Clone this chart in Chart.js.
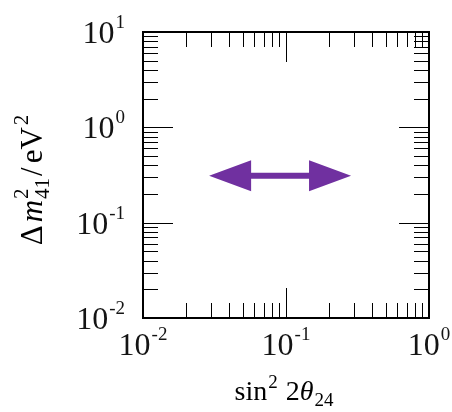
<!DOCTYPE html>
<html>
<head>
<meta charset="utf-8">
<script src="https://cdn.jsdelivr.net/npm/chart.js@4.4.0/dist/chart.umd.min.js"></script>
<style>
html, body { margin: 0; padding: 0; background: #fff; }
canvas { display: block; }
</style>
</head>
<body>
<canvas id="chart" width="452" height="412"></canvas>
<script>
const xTicks = [0.01, 0.1, 1];
const xTickExp = ['-2', '-1', '0'];
const yTicks = [0.01, 0.1, 1, 10];
const yTickExp = ['-2', '-1', '0', '1'];
// range of sin^2 2theta covered by the arrow, at one dm^2
const arrowX = [0.029, 0.285];
const arrowY = [0.31, 0.31];
const arrowColor = '#7030a0';

const serif = '"Liberation Serif", "DejaVu Serif", serif';

function fontOf(p) {
	return (p.italic ? 'italic ' : '') + p.size + 'px ' + serif;
}

function partWidth(ctx, p) {
	if (p.sup !== undefined) {
		ctx.font = p.size + 'px ' + serif;
		return Math.max(ctx.measureText(p.sup).width, ctx.measureText(p.sub).width) + (p.gap || 0);
	}
	ctx.font = fontOf(p);
	return ctx.measureText(p.t).width + (p.gap || 0);
}

// text pieces side by side, each with its own size / style / vertical shift
function drawRich(ctx, parts, x, y, align) {
	let total = 0;
	parts.forEach(p => total += partWidth(ctx, p));
	let cx = align === 'center' ? x - total / 2 : align === 'right' ? x - total : x;
	ctx.textAlign = 'left';
	ctx.textBaseline = 'alphabetic';
	parts.forEach(p => {
		const w = partWidth(ctx, p);
		if (p.sup !== undefined) {
			ctx.font = p.size + 'px ' + serif;
			ctx.fillText(p.sup, cx, y - p.up);
			ctx.fillText(p.sub, cx, y + p.down);
		} else {
			ctx.font = fontOf(p);
			ctx.fillText(p.t, cx, y - (p.up || 0));
		}
		cx += w;
	});
}

function minorTicks(min, max) {
	const out = [];
	for (let d = min; d < max; d *= 10) {
		for (let k = 2; k <= 9; k++) out.push(d * k);
	}
	return out;
}

function powerLabel(exp) {
	return [
		{ t: '10', size: 32, gap: 1 },
		{ t: exp, size: 19, up: 15 }
	];
}

const axesPlugin = {
	id: 'axesPlugin',
	afterDraw(c) {
		const ctx = c.ctx, a = c.chartArea, xs = c.scales.x, ys = c.scales.y;
		ctx.save();
		ctx.strokeStyle = '#000';
		ctx.lineWidth = 1;
		ctx.beginPath();
		const xMarks = xTicks.map(v => [v, 30]).concat(minorTicks(xTicks[0], xTicks[xTicks.length - 1]).map(v => [v, 15]));
		xMarks.forEach(([v, len]) => {
			const px = Math.round(xs.getPixelForValue(v)) + 0.5;
			ctx.moveTo(px, a.bottom); ctx.lineTo(px, a.bottom - len);
			ctx.moveTo(px, a.top); ctx.lineTo(px, a.top + len);
		});
		const yMarks = yTicks.map(v => [v, 30]).concat(minorTicks(yTicks[0], yTicks[yTicks.length - 1]).map(v => [v, 15]));
		yMarks.forEach(([v, len]) => {
			const py = Math.round(ys.getPixelForValue(v)) + 0.5;
			ctx.moveTo(a.left, py); ctx.lineTo(a.left + len, py);
			ctx.moveTo(a.right, py); ctx.lineTo(a.right - len, py);
		});
		ctx.stroke();
		ctx.lineWidth = 2;
		ctx.strokeRect(a.left, a.top, a.width, a.height);

		ctx.fillStyle = '#141414';
		xTicks.forEach((v, i) => {
			drawRich(ctx, powerLabel(xTickExp[i]), xs.getPixelForValue(v), a.bottom + 37, 'center');
		});
		yTicks.forEach((v, i) => {
			drawRich(ctx, powerLabel(yTickExp[i]), a.left - 18, ys.getPixelForValue(v) + 11, 'right');
		});

		// x title: sin^2 2theta_24
		ctx.fillStyle = '#000';
		drawRich(ctx, [
			{ t: 'sin', size: 28, gap: 1 },
			{ t: '2', size: 19, up: 12, gap: 8 },
			{ t: '2', size: 28 },
			{ t: 'θ', size: 28, italic: true, gap: 1 },
			{ t: '24', size: 19, up: -6 }
		], (a.left + a.right) / 2 - 2, 400, 'center');

		// y title: dm^2_41 / eV^2
		ctx.translate(42, 180);
		ctx.rotate(-Math.PI / 2);
		drawRich(ctx, [
			{ t: 'Δ', size: 31, gap: 3 },
			{ t: 'm', size: 31, italic: true, gap: 1 },
			{ sup: '2', sub: '41', size: 21, up: 14, down: 7, gap: 2 },
			{ t: '/', size: 31, gap: 4 },
			{ t: 'eV', size: 31, gap: 2 },
			{ t: '2', size: 21, up: 14 }
		], 0, 0, 'center');
		ctx.restore();
	}
};

const arrowPlugin = {
	id: 'arrowPlugin',
	afterDatasetsDraw(c) {
		const pts = c.getDatasetMeta(0).data;
		const x0 = pts[0].x, x1 = pts[1].x, y = pts[0].y;
		const hl = 42, hw = 15.5, sh = 3;
		const ctx = c.ctx;
		ctx.save();
		ctx.fillStyle = arrowColor;
		ctx.beginPath();
		ctx.moveTo(x0, y);
		ctx.lineTo(x0 + hl, y - hw);
		ctx.lineTo(x0 + hl, y - sh);
		ctx.lineTo(x1 - hl, y - sh);
		ctx.lineTo(x1 - hl, y - hw);
		ctx.lineTo(x1, y);
		ctx.lineTo(x1 - hl, y + hw);
		ctx.lineTo(x1 - hl, y + sh);
		ctx.lineTo(x0 + hl, y + sh);
		ctx.lineTo(x0 + hl, y + hw);
		ctx.closePath();
		ctx.fill();
		ctx.restore();
	}
};

const chart = new Chart(document.getElementById('chart'), {
	type: 'scatter',
	data: {
		datasets: [{
			data: arrowX.map((x, i) => ({ x: x, y: arrowY[i] })),
			pointRadius: 0,
			showLine: false
		}]
	},
	options: {
		responsive: false,
		animation: false,
		layout: { padding: { left: 143, right: 23, top: 32, bottom: 94 } },
		scales: {
			x: { type: 'logarithmic', min: xTicks[0], max: xTicks[xTicks.length - 1], display: false },
			y: { type: 'logarithmic', min: yTicks[0], max: yTicks[yTicks.length - 1], display: false }
		},
		plugins: { legend: { display: false }, tooltip: { enabled: false } }
	},
	plugins: [axesPlugin, arrowPlugin]
});
</script>
</body>
</html>
